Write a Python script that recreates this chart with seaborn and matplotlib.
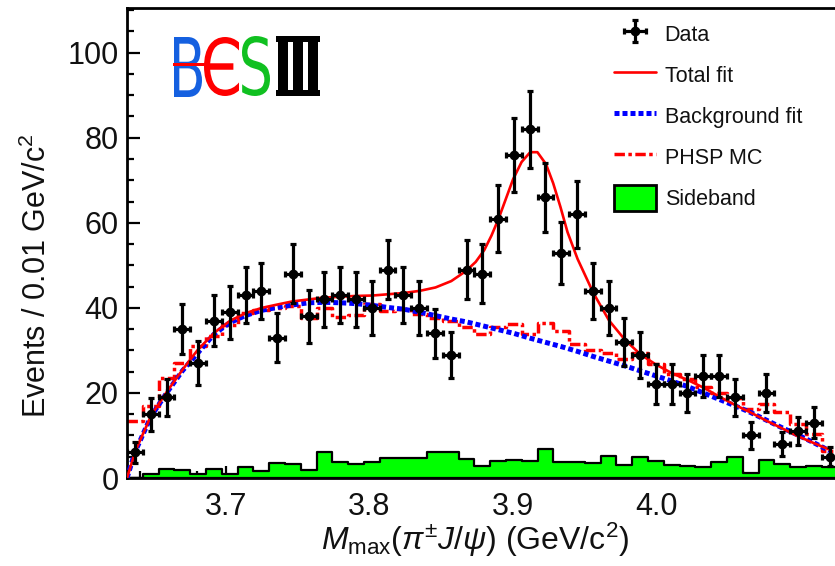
import numpy as np
import pandas as pd
import matplotlib
matplotlib.use("Agg")
import matplotlib.pyplot as plt
import seaborn as sns
from matplotlib.font_manager import FontProperties
from matplotlib.lines import Line2D
from matplotlib.patches import PathPatch, Patch, Rectangle
from matplotlib.textpath import TextPath
from matplotlib.transforms import Affine2D
from matplotlib.ticker import MultipleLocator

# ---- values (x in units of the drawn tick labels) ----
X_EDGE0 = 3.6311      # low edge of the first bin
BIN_W = 0.011         # bin width as drawn against the tick labels
N_BINS = 45
X_MIN, X_MAX = 3.631, 4.1244
Y_MIN, Y_MAX = 0, 110.5

data_counts = [6, 15, 19, 35, 27, 37, 39, 43, 44, 33,
               48, 38, 42, 43, 42, 40, 49, 43, 40, 34,
               29, 49, 48, 61, 76, 82, 66, 53, 62, 44,
               40, 32, 29, 22, 22, 20, 24, 24, 19, 10,
               20, 8, 11, 13, 5]

sideband = [0.0, 1.0, 2.1, 1.8, 0.9, 2.0, 1.0, 2.5, 1.7, 3.6,
            3.3, 1.8, 6.0, 3.7, 3.4, 3.7, 4.8, 4.8, 4.8, 6.1,
            6.0, 4.4, 2.9, 4.1, 4.3, 4.1, 6.9, 3.7, 3.7, 3.5,
            5.2, 3.1, 4.9, 4.0, 3.1, 2.9, 2.5, 3.7, 5.0, 1.2,
            4.2, 3.4, 2.5, 2.8, 2.5]

phsp_mc = [13.5, 17.0, 23.5, 27.0, 31.0, 33.4, 36.0, 38.9, 39.5, 40.0,
           40.5, 37.5, 40.0, 37.8, 38.3, 40.9, 39.3, 39.7, 38.6, 37.7,
           36.9, 35.4, 33.8, 35.4, 36.2, 33.8, 36.5, 34.6, 31.4, 30.1,
           29.5, 27.9, 29.5, 26.7, 24.4, 23.2, 21.5, 20.0, 18.7, 16.3,
           17.3, 15.4, 12.8, 10.3, 6.4]

# background fit, read at the bin centres (plus 0 at the left edge)
bkg_fit = [6.1, 14.4, 20.0, 25.2, 29.5, 33.8, 36.5, 38.2, 39.4, 40.1,
           40.7, 41.2, 41.3, 41.2, 41.0, 40.6, 40.1, 39.7, 39.0, 38.2,
           37.4, 36.7, 35.8, 34.9, 34.0, 32.9, 31.9, 30.9, 29.8, 28.6,
           27.5, 26.4, 25.2, 24.0, 22.8, 21.5, 20.0, 18.5, 17.0, 15.4,
           13.6, 11.8, 10.1, 8.3, 6.4]

# total fit (denser around the peak)
tot_x = [3.631, 3.637, 3.648, 3.659, 3.670, 3.680, 3.692, 3.703, 3.714, 3.725,
         3.736, 3.746, 3.758, 3.768, 3.779, 3.790, 3.802, 3.813, 3.824, 3.835,
         3.846, 3.857, 3.867, 3.874, 3.880, 3.885, 3.890, 3.895, 3.900, 3.906,
         3.912, 3.917, 3.923, 3.928, 3.933, 3.938, 3.945, 3.956, 3.967, 3.978,
         3.989, 4.000, 4.011, 4.022, 4.033, 4.044, 4.054, 4.065, 4.077, 4.088,
         4.098, 4.109, 4.121]
tot_y = [0.0, 6.5, 14.8, 20.4, 25.6, 30.0, 34.2, 37.0, 38.8, 40.0,
         40.8, 41.5, 42.0, 42.4, 42.6, 42.8, 42.9, 43.2, 43.5, 44.0,
         44.8, 46.3, 48.6, 50.8, 53.6, 57.0, 61.0, 65.6, 70.2, 74.3,
         76.6, 76.6, 73.8, 69.3, 63.8, 57.8, 51.5, 43.5, 37.0, 32.5,
         29.0, 26.6, 24.6, 23.0, 21.2, 19.1, 17.3, 15.5, 13.4, 11.6,
         9.9, 8.3, 6.6]

x_ticks = [3.7, 3.8, 3.9, 4.0]
y_ticks = [0, 20, 40, 60, 80, 100]

RED = "#ff0000"
BLUE = "#0000ff"
GREEN = "#00ff00"
TEXT = "#111111"


def add_logo_letter(fig, text, left, top, right, bottom, color, weight="normal"):
    """Draw one logo glyph stretched into a box given in figure pixels."""
    W, H = fig.get_size_inches() * fig.dpi
    tp = TextPath((0, 0), text, size=1,
                  prop=FontProperties(family="DejaVu Sans", weight=weight))
    bb = tp.get_extents()
    x0, x1 = left / W, right / W
    y0, y1 = 1 - bottom / H, 1 - top / H
    tr = (Affine2D().translate(-bb.x0, -bb.y0)
          .scale((x1 - x0) / bb.width, (y1 - y0) / bb.height)
          .translate(x0, y0))
    fig.add_artist(PathPatch(tr.transform_path(tp), facecolor=color,
                             edgecolor="none", transform=fig.transFigure))


def add_logo_bar(fig, left, top, right, bottom, color):
    W, H = fig.get_size_inches() * fig.dpi
    fig.add_artist(Rectangle((left / W, 1 - bottom / H), (right - left) / W,
                             (bottom - top) / H, facecolor=color,
                             edgecolor="none", transform=fig.transFigure))


def main():
    sns.set_theme(style="ticks")
    plt.rcParams["font.family"] = ["Liberation Sans", "DejaVu Sans"]
    plt.rcParams["mathtext.fontset"] = "custom"
    plt.rcParams["mathtext.rm"] = "Liberation Sans"
    plt.rcParams["mathtext.it"] = "Liberation Sans:italic"

    fig = plt.figure(figsize=(8.35, 5.66), dpi=100)
    ax = fig.add_axes([127 / 835, 1 - 478 / 566, 1 - 127 / 835, 470 / 566])

    edges = X_EDGE0 + BIN_W * np.arange(N_BINS + 1)
    centres = edges[:-1] + BIN_W / 2
    sb_df = pd.DataFrame({"centre": centres, "sideband": sideband})

    # sideband histogram
    sns.histplot(data=sb_df, x="centre", weights="sideband",
                 bins=edges.tolist(), element="step", fill=True, color=GREEN,
                 edgecolor="black", linewidth=1.6, alpha=1, ax=ax, zorder=1)

    # PHSP MC as a dash-dot step line
    phsp_ls = (0, (3.0, 1.0, 1.0, 1.0))
    ax.step(edges, list(phsp_mc) + [phsp_mc[-1]], where="post", color=RED,
            linewidth=2.5, linestyle=phsp_ls, zorder=2)

    # background fit
    bkg_ls = (0, (1.0, 0.6))
    sns.lineplot(x=np.concatenate([[X_MIN], centres]), y=[0.0] + bkg_fit,
                 estimator=None, color=BLUE, linewidth=3.6, linestyle=bkg_ls,
                 ax=ax, zorder=3)

    # total fit
    sns.lineplot(x=tot_x, y=tot_y, estimator=None, sort=False, color=RED,
                 linewidth=1.9, ax=ax, zorder=4)

    # data
    data_err = ax.errorbar(centres, data_counts, yerr=np.sqrt(data_counts),
                           xerr=BIN_W / 2, fmt="o", color="black", ms=6,
                           elinewidth=2.3, capsize=2.5, capthick=2.3, zorder=5)

    ax.set_xlim(X_MIN, X_MAX)
    ax.set_ylim(Y_MIN, Y_MAX)
    ax.set_xticks(x_ticks)
    ax.set_xticklabels([f"{t:.1f}" for t in x_ticks])
    ax.set_yticks(y_ticks)
    ax.xaxis.set_minor_locator(MultipleLocator(0.02))
    ax.yaxis.set_minor_locator(MultipleLocator(5))
    ax.tick_params(which="both", direction="in", color="black", width=1.6,
                   labelsize=22, labelcolor=TEXT)
    ax.tick_params(which="major", length=9)
    ax.tick_params(which="minor", length=5)
    ax.tick_params(axis="x", pad=10)
    ax.tick_params(axis="y", pad=6)
    for side in ["left", "bottom", "top"]:
        ax.spines[side].set_linewidth(2)
        ax.spines[side].set_color("black")
    ax.spines["right"].set_visible(False)

    ax.set_xlabel(r"$M_{\rm max}(\pi^{\pm}J/\psi)$ (GeV/c$^2$)", fontsize=23,
                  color=TEXT)
    ax.set_ylabel(r"Events / 0.01 GeV/c$^2$", fontsize=22, color=TEXT)
    ax.xaxis.set_label_coords(0.492, -0.09)
    ax.yaxis.set_label_coords(-0.104, 0.43)
    ax.grid(False)

    # legend
    handles = [
        data_err,
        Line2D([], [], color=RED, linewidth=1.9),
        Line2D([], [], color=BLUE, linewidth=3.6, linestyle=bkg_ls),
        Line2D([], [], color=RED, linewidth=2.5, linestyle=phsp_ls),
        Patch(facecolor=GREEN, edgecolor="black", linewidth=2),
    ]
    labels = ["Data", "Total fit", "Background fit", "PHSP MC", "Sideband"]
    fig.legend(handles, labels, loc="upper left",
               bbox_to_anchor=(614 / 835, 1 - 21 / 566),
               bbox_transform=fig.transFigure, frameon=False, fontsize=15.5,
               handlelength=1.95, handleheight=1.45, handletextpad=0.4,
               labelspacing=0.72, borderpad=0, borderaxespad=0,
               labelcolor=TEXT)

    # BESIII logo
    add_logo_letter(fig, "B", 174, 37, 202, 97, "#1560e0")
    add_logo_letter(fig, "\u0404", 204, 37, 239, 96, RED)
    add_logo_bar(fig, 173, 63, 209, 66.5, RED)
    add_logo_letter(fig, "S", 242, 36, 270, 96, "#10c020")
    add_logo_letter(fig, "\u2162", 278, 38, 318, 94, "black", weight="bold")
    add_logo_bar(fig, 276, 36, 320, 42, "black")
    add_logo_bar(fig, 276, 90, 320, 96, "black")

    fig.savefig("out.png", dpi=100)


if __name__ == "__main__":
    main()
